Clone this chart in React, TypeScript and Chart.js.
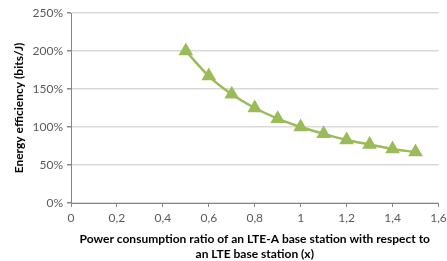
import React, { useEffect, useRef } from "react";
import { Chart, registerables } from "chart.js";

Chart.register(...registerables);

const ratios = [0.5, 0.6, 0.7, 0.8, 0.9, 1.0, 1.1, 1.2, 1.3, 1.4, 1.5];
const efficiency = [200, 167, 143, 125, 111, 100, 91, 83, 77, 71, 67];
const xTitle = [
  "Power consumption ratio of an LTE-A base station with respect to",
  "an LTE base station (x)",
];
const yTitle = "Energy efficiency (bits/J)";

export default function App() {
  const ref = useRef<HTMLCanvasElement | null>(null);
  useEffect(() => {
    if (!ref.current) return;
    const font = "Lato, 'Open Sans', sans-serif";
    const chart = new Chart(ref.current, {
      type: "line",
      data: {
        datasets: [
          {
            data: ratios.map((x, i) => ({ x, y: efficiency[i] })),
            borderColor: "#9BBB59",
            backgroundColor: "#9BBB59",
            borderWidth: 2.5,
            pointStyle: "triangle",
            pointRadius: 6,
            pointHoverRadius: 6,
            tension: 0.4,
            cubicInterpolationMode: "monotone",
          },
        ],
      },
      options: {
        animation: false,
        responsive: false,
        layout: { padding: { top: 13, right: 7, left: 0, bottom: 0 } },
        plugins: { legend: { display: false }, tooltip: { enabled: false } },
        scales: {
          x: {
            type: "linear",
            min: 0,
            max: 1.6,
            ticks: {
              stepSize: 0.2,
              color: "#595959",
              font: { family: font, size: 12 },
              padding: 4,
              maxRotation: 0,
              callback: (v: any) =>
                Number(Number(v).toFixed(1)).toString().replace(".", ","),
            },
            grid: {
              drawOnChartArea: false,
              drawTicks: true,
              tickLength: 4,
              tickColor: "#868686",
            },
            border: { display: true, color: "#868686" },
            title: {
              display: true,
              text: xTitle,
              color: "#000000",
              font: { family: font, size: 12, weight: "bold" },
              padding: { top: 6, bottom: 0 },
            },
            afterFit: (s: any) => {
              s.height = 58;
              s.paddingRight = 0;
              s.paddingLeft = 0;
            },
          },
          y: {
            min: 0,
            max: 250,
            ticks: {
              stepSize: 50,
              color: "#595959",
              font: { family: font, size: 12 },
              padding: 4,
              callback: (v: any) => v + "%",
            },
            grid: {
              color: "#D9D9D9",
              lineWidth: 1.5,
              tickLength: 4,
              tickColor: "#868686",
            },
            border: { display: true, color: "#868686" },
            title: {
              display: true,
              text: yTitle,
              color: "#000000",
              font: { family: font, size: 12, weight: "bold" },
              padding: { top: 12, bottom: 0 },
            },
            afterFit: (s: any) => {
              s.width = 71;
              s.paddingTop = 0;
              s.paddingBottom = 0;
            },
          },
        },
      },
    });
    return () => chart.destroy();
  }, []);
  return (
    <div style={{ position: "fixed", left: 0, top: 0, width: 447, height: 261, background: "#fff" }}>
      <canvas ref={ref} width={447} height={261} style={{ width: 447, height: 261 }} />
    </div>
  );
}
